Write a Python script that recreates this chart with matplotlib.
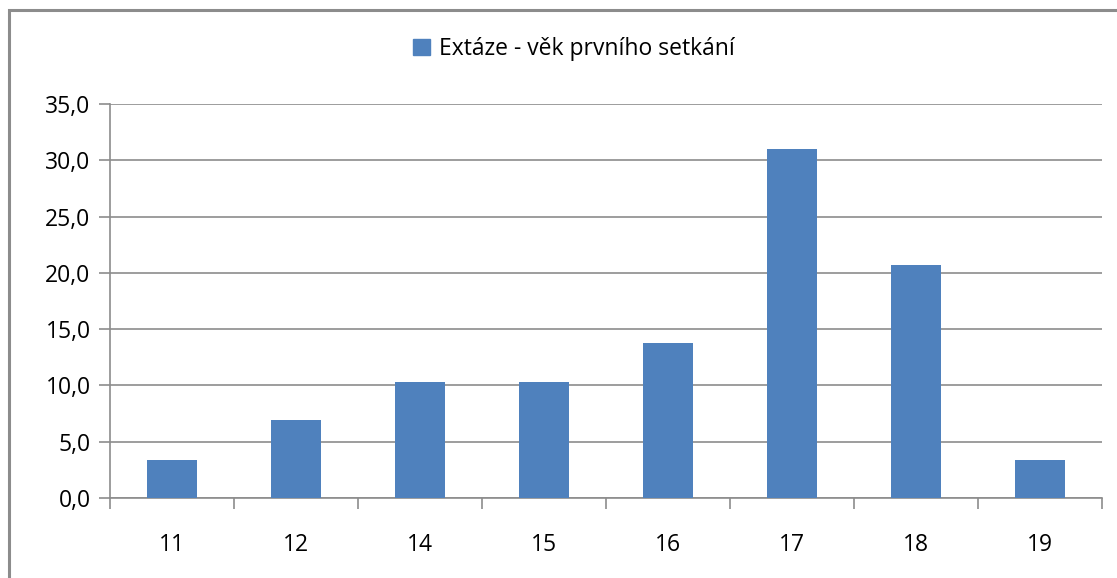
import matplotlib
matplotlib.use("Agg")
import matplotlib.pyplot as plt
from matplotlib.patches import Rectangle, Patch

categories = ["11", "12", "14", "15", "16", "17", "18", "19"]
values = [3.4, 6.9, 10.3, 10.3, 13.8, 31.0, 20.7, 3.4]
series_name = "Extáze - věk prvního setkání"
yticks = [0, 5, 10, 15, 20, 25, 30, 35]

plt.rcParams['font.family'] = ['Open Sans', 'DejaVu Sans']
W, H = 1117, 578
fig = plt.figure(figsize=(W / 100, H / 100), dpi=100)
fig.patch.set_facecolor('white')

# outer chart frame
fig.add_artist(Rectangle((9 / W, -0.1), 1.2, 1 - 10 / H + 0.1, transform=fig.transFigure,
                         fill=False, edgecolor='#8c8c8c', linewidth=2.2))

left, right, top, bottom = 110, 1102, 104, 498
ax = fig.add_axes([left / W, 1 - bottom / H, (right - left) / W, (bottom - top) / H])
color = '#4f81bd'
x = list(range(len(categories)))
ax.bar(x, values, width=0.4, color=color, zorder=3)
ax.set_xlim(-0.5, len(categories) - 0.5)
ax.set_ylim(0, 35)
ax.set_yticks(yticks)
ax.set_yticklabels([f"{v:.1f}".replace('.', ',') for v in yticks], fontsize=16.5)
ax.set_xticks(x)
ax.set_xticklabels(categories, fontsize=16.5)
ax.set_xticks([i - 0.5 for i in range(len(categories) + 1)], minor=True)
ax.tick_params(axis='x', which='major', length=0, pad=25)
ax.tick_params(axis='x', which='minor', length=8, width=1.2, color='#8c8c8c')
ax.tick_params(axis='y', length=8, width=1.2, color='#8c8c8c', pad=6)
ax.grid(axis='y', color='#8c8c8c', linewidth=1.2, zorder=0)
for s in ['top', 'right']:
    ax.spines[s].set_visible(False)
for s in ['left', 'bottom']:
    ax.spines[s].set_color('#8c8c8c')
    ax.spines[s].set_linewidth(1.2)

fig.legend(handles=[Patch(color=color, label=series_name)], loc='center',
           bbox_to_anchor=(574 / W, 1 - 49 / H), frameon=False, fontsize=16.5,
           handlelength=0.75, handleheight=0.75, handletextpad=0.4)

fig.savefig('out.png', dpi=100)
